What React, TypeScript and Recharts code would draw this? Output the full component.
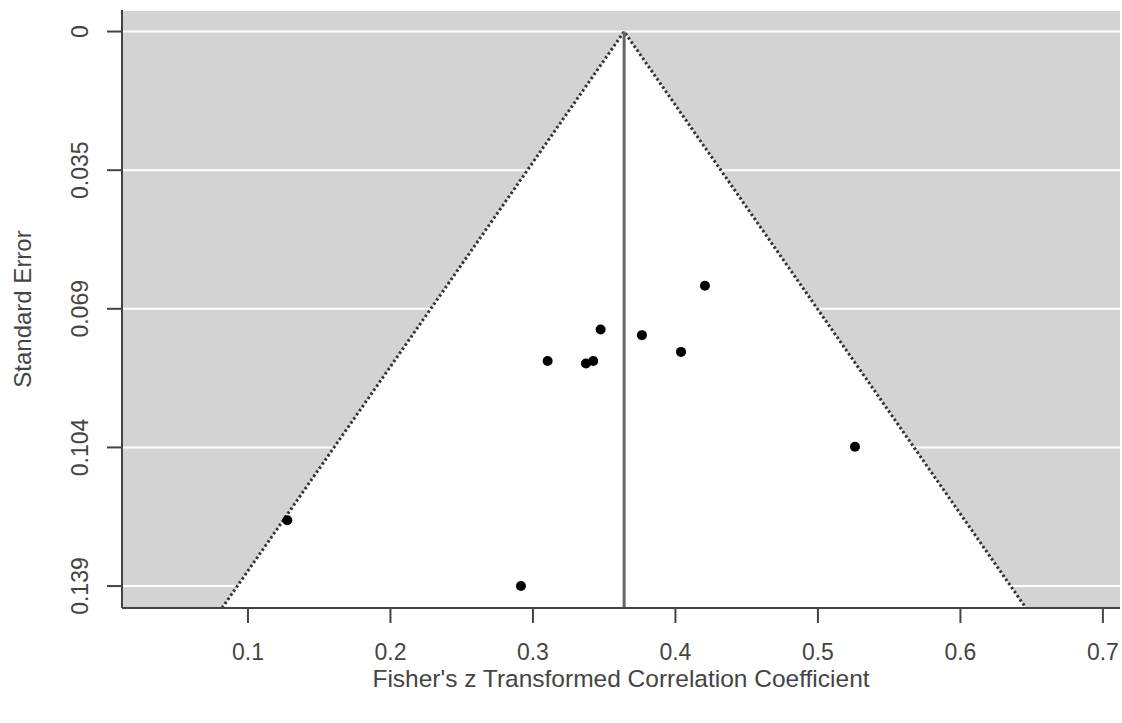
import { ComposedChart, XAxis, YAxis, CartesianGrid, Area, Line, Scatter, ReferenceLine } from 'recharts'

// summary estimate and funnel edges (z, standard error)
const pooledZ = 0.364
const funnelZ = [0.0818, 0.364, 0.646]
const funnelSe = [0.1445, 0, 0.1445]

// individual studies
const studyZ = [0.4207, 0.3475, 0.3765, 0.4039, 0.3103, 0.3372, 0.3423, 0.526, 0.1276, 0.2916]
const studySe = [0.0637, 0.0747, 0.0761, 0.0803, 0.0826, 0.0832, 0.0826, 0.1041, 0.1225, 0.139]

const xTicks = [0.1, 0.2, 0.3, 0.4, 0.5, 0.6, 0.7]
const yTicks = [0, 0.03475, 0.0695, 0.10425, 0.139]
const yTickLabels = ['0', '0.035', '0.069', '0.104', '0.139']

const funnelData = funnelZ.map((z, i) => ({ z, se: funnelSe[i] }))
const studyData = studyZ.map((z, i) => ({ z, se: studySe[i] }))

const textColor = '#444'
const font = 'Liberation Sans, Arial, sans-serif'

function YTick(props: any) {
  const { x, y, index } = props
  return (
    <text
      x={x}
      y={y}
      transform={`rotate(-90, ${x}, ${y})`}
      textAnchor="middle"
      fill={textColor}
      fontSize={23}
      fontFamily={font}
    >
      {yTickLabels[index]}
    </text>
  )
}

function YLabel(props: any) {
  const vb = props.viewBox || { x: 0, y: 10, height: 598 }
  const cx = 31
  const cy = vb.y + vb.height / 2
  return (
    <text
      x={cx}
      y={cy}
      transform={`rotate(-90, ${cx}, ${cy})`}
      textAnchor="middle"
      fill={textColor}
      fontSize={24}
      fontFamily={font}
    >
      Standard Error
    </text>
  )
}

export default function App() {
  return (
    <div style={{ position: 'absolute', left: 0, top: 0, width: 1122, height: 723, background: '#fff' }}>
      <ComposedChart
        width={1122}
        height={723}
        data={funnelData}
        margin={{ top: 10, right: 2, bottom: 0, left: 0 }}
      >
        <CartesianGrid fill="#d3d3d3" fillOpacity={1} stroke="#fff" strokeWidth={2} vertical={false} />
        <XAxis
          type="number"
          dataKey="z"
          domain={[0.0116, 0.712]}
          allowDataOverflow
          ticks={xTicks}
          height={115}
          tickSize={15}
          tickMargin={21}
          tick={{ fill: textColor, fontSize: 23, fontFamily: font }}
          stroke="#444"
          strokeWidth={2}
          label={{
            value: "Fisher's z Transformed Correlation Coefficient",
            position: 'insideBottom',
            offset: 36,
            fill: textColor,
            fontSize: 24.5,
            fontFamily: font,
          }}
        />
        <YAxis
          type="number"
          dataKey="se"
          reversed
          domain={[-0.0054, 0.1445]}
          allowDataOverflow
          ticks={yTicks}
          width={122}
          tickSize={15}
          tickMargin={19}
          tick={<YTick />}
          stroke="#444"
          strokeWidth={2}
          label={<YLabel />}
        />
        <Area
          type="linear"
          dataKey="se"
          baseValue={0.1445}
          fill="#fff"
          fillOpacity={1}
          stroke="none"
          isAnimationActive={false}
        />
        <Line
          type="linear"
          dataKey="se"
          stroke="#333"
          strokeWidth={3}
          strokeDasharray="2.5 2.5"
          dot={false}
          activeDot={false}
          isAnimationActive={false}
        />
        <ReferenceLine
          segment={[{ x: pooledZ, y: 0 }, { x: pooledZ, y: 0.1445 }]}
          stroke="#666"
          strokeWidth={3}
        />
        <Scatter
          data={studyData}
          dataKey="se"
          isAnimationActive={false}
          shape={(p: any) => <circle cx={p.cx} cy={p.cy} r={5} fill="#000" />}
        />
      </ComposedChart>
    </div>
  )
}
